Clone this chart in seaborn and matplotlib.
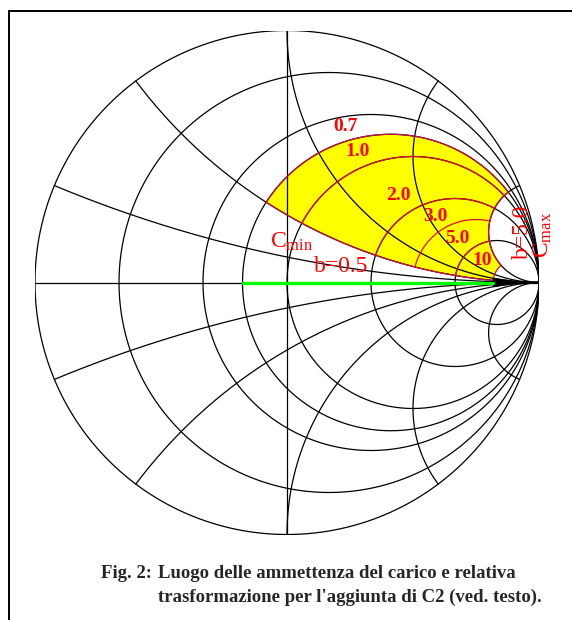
import numpy as np
import pandas as pd
import matplotlib
matplotlib.use("Agg")
import matplotlib.pyplot as plt
import seaborn as sns
from matplotlib.lines import Line2D

# Smith chart grid (normalized admittance y = g + jb)
g_circles = [0.0, 0.2, 0.5, 0.7, 1.0, 2.0, 5.0]
b_arcs = [0.2, 0.5, 1.0, 2.0, 5.0]

# area covered by the load admittance after adding C2
g_region = [0.7, 1.0, 2.0, 3.0, 5.0, 10.0]
g_labels = ["0.7", "1.0", "2.0", "3.0", "5.0", "10"]
b_min, b_max = 0.5, 5.0

# load admittance locus (b = 0)
g_load = [0.7, 10.0]
# crowded lines near the short-circuit point, drawn as a solid wedge
wedge_b = 1.0

caption_tag = "Fig. 2:"
caption_lines = ["Luogo delle ammettenza del carico e relativa",
                 "trasformazione per l'aggiunta di C2 (ved. testo)."]


def gamma(y):
    y = np.asarray(y, dtype=complex)
    return (y - 1) / (y + 1)


def g_curve(g, b0, b1, n=600):
    b = np.linspace(b0, b1, n)
    return gamma(g + 1j * b)


def b_curve(b, g0, g1, n=600):
    g = np.geomspace(max(g0, 1e-4), g1, n)
    if g0 == 0:
        g = np.concatenate([[0.0], g])
    return gamma(g + 1j * b)


sns.set_theme(style="white")
plt.rcParams["font.family"] = ["Liberation Serif", "DejaVu Serif"]
plt.rcParams["mathtext.fontset"] = "custom"
plt.rcParams["mathtext.rm"] = "Liberation Serif"
plt.rcParams["mathtext.it"] = "Liberation Serif"

W, H = 572, 620
fig = plt.figure(figsize=(W / 100, H / 100), dpi=100)
fig.patch.set_facecolor("white")

# chart circle: centre (287, 282.5) px, radius 252 px
cx, cy, R = 287.0, 282.5, 252.0
ax = fig.add_axes([(cx - R) / W, (H - cy - R) / H, 2 * R / W, 2 * R / H])
ax.set_xlim(-1, 1)
ax.set_ylim(-1, 1)
ax.set_aspect("equal")
ax.axis("off")

# ---- black grid -------------------------------------------------------
rows = []
cid = 0
th = np.linspace(0, 2 * np.pi, 720)
for g in g_circles:
    c, rad = g / (1 + g), 1 / (1 + g)
    for xx, yy in zip(c + rad * np.cos(th), rad * np.sin(th)):
        rows.append((cid, xx, yy))
    cid += 1
for b in b_arcs:
    for s in (1, -1):
        for p in b_curve(s * b, 0.0, 1e5):
            rows.append((cid, p.real, p.imag))
        cid += 1
# real axis and the |y| = 1 diameter
for p in gamma(np.concatenate([[0.0], np.geomspace(1e-4, 1e5, 300)])):
    rows.append((cid, p.real, p.imag))
cid += 1
for t in np.linspace(-np.pi / 2, np.pi / 2, 200):
    p = gamma(np.exp(1j * t))
    rows.append((cid, p.real, p.imag))
cid += 1
grid_df = pd.DataFrame(rows, columns=["curve", "re", "im"])

# ---- yellow region -----------------------------------------------------
gmin, gmax = g_region[0], g_region[-1]
edge = np.concatenate([
    g_curve(gmin, b_min, b_max),
    b_curve(b_max, gmin, gmax),
    g_curve(gmax, b_max, b_min),
    b_curve(b_min, gmin, gmax)[::-1],
])
ax.fill(edge.real, edge.imag, facecolor="#ffff00", edgecolor="none", zorder=1)

sns.lineplot(data=grid_df, x="re", y="im", units="curve", estimator=None,
             sort=False, color="black", linewidth=0.9, ax=ax, legend=False,
             zorder=2)

ax.plot(edge.real, edge.imag, color="#c8104a", linewidth=0.9, zorder=3)
for g in g_region[1:-1]:
    arc = g_curve(g, b_min, b_max)
    ax.plot(arc.real, arc.imag, color="#e0102a", linewidth=0.9, zorder=4)

wedge = np.concatenate([b_curve(wedge_b, gmax, 1e5),
                        b_curve(-wedge_b, gmax, 1e5)[::-1]])
ax.fill(wedge.real, wedge.imag, color="black", zorder=6)

# load locus
locus = gamma(np.array(g_load))
sns.lineplot(x=locus.real, y=locus.imag, color="#00ff00", linewidth=2.4,
             ax=ax, zorder=7, legend=False)

# ---- labels ------------------------------------------------------------
red = "#ff0000"
label_pos = [(0.230, 0.621), (0.282, 0.518), (0.440, 0.347),
             (0.587, 0.260), (0.675, 0.173), (0.774, 0.089)]
for txt, (lx, ly) in zip(g_labels, label_pos):
    ax.text(lx, ly, txt, color=red, fontsize=14, fontweight="bold",
            ha="center", va="center", zorder=8)
ax.text(0.020, 0.161, r"C$_{\mathrm{min}}$", color=red, fontsize=17,
        ha="center", va="center", zorder=8)
ax.text(0.214, 0.065, f"b={b_min}", color=red, fontsize=17,
        ha="center", va="center", zorder=8)
ax.text(0.933, 0.200, f"b={b_max}", color=red, fontsize=17, rotation=90,
        ha="center", va="center", zorder=8)
ax.text(1.015, 0.188, r"C$_{\mathrm{max}}$", color=red, fontsize=17,
        rotation=90, ha="center", va="center", zorder=8, clip_on=False)

# ---- frame and caption -------------------------------------------------
fx, fy = 9 / W, 1 - 11 / H
fig.add_artist(Line2D([fx, fx], [0, fy], color="black", linewidth=1.4))
fig.add_artist(Line2D([fx, 1], [fy, fy], color="black", linewidth=1.4))
fig.text(152 / W, 1 - 573 / H, caption_tag, fontsize=13.5, fontweight="bold",
         ha="right", va="center")
for i, line in enumerate(caption_lines):
    fig.text(158 / W, 1 - (573 + 24 * i) / H, line, fontsize=13.5,
             fontweight="bold", ha="left", va="center")

fig.savefig("out.png", dpi=100, facecolor="white")
